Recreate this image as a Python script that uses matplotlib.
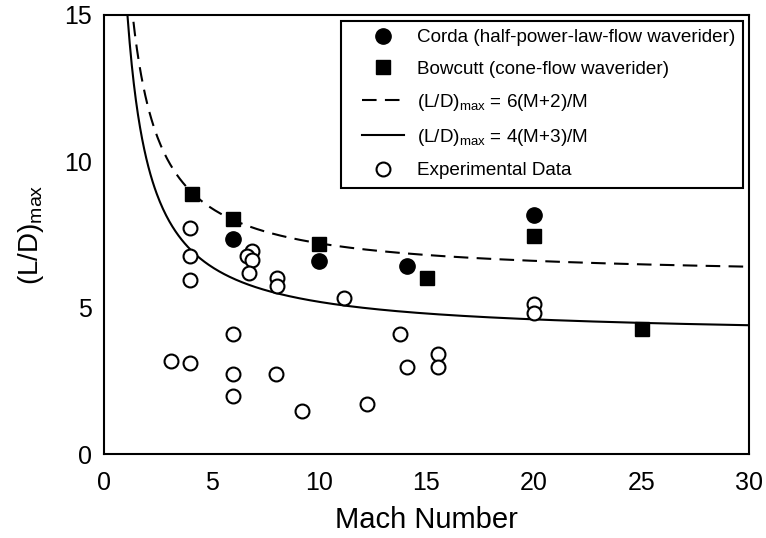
import numpy as np
import matplotlib
matplotlib.use("Agg")
import matplotlib.pyplot as plt
from matplotlib.legend_handler import HandlerLine2D

plt.rcParams['font.family'] = ['Liberation Sans', 'DejaVu Sans']
plt.rcParams['mathtext.fontset'] = 'custom'
plt.rcParams['mathtext.rm'] = 'Liberation Sans'
plt.rcParams['mathtext.it'] = 'Liberation Sans:italic'

# Corda (half-power-law-flow waverider)
corda_mach = [6.0, 10.0, 14.1, 20.0]
corda_ld = [7.35, 6.6, 6.42, 8.17]

# Bowcutt (cone-flow waverider)
bowcutt_mach = [4.1, 6.0, 10.0, 15.0, 20.0, 25.0]
bowcutt_ld = [8.9, 8.03, 7.16, 6.0, 7.45, 4.27]

# experimental data
exp_mach = [4.0, 4.0, 4.0, 6.9, 6.65, 6.9, 6.75, 8.05, 8.05, 11.15, 6.0, 3.1, 4.0,
            6.0, 8.0, 6.0, 9.2, 12.25, 20.0, 20.0, 13.75, 14.1, 15.55, 15.55]
exp_ld = [7.71, 6.78, 5.94, 6.95, 6.76, 6.63, 6.17, 6.02, 5.75, 5.34, 4.10, 3.19, 3.12,
          2.72, 2.74, 1.99, 1.48, 1.71, 5.12, 4.83, 4.09, 2.96, 3.42, 2.96]

mach = np.linspace(1.0, 30, 600)
dashed_ld = 6 * (mach + 2) / mach
solid_ld = 4 * (mach + 3) / mach


class ShiftedHandle(HandlerLine2D):
    # line drawn on the right part of the handle box, marker near its right end
    def get_xdata(self, legend, xdescent, ydescent, width, height, fontsize):
        x0 = -xdescent
        return [x0 + 0.23 * width, x0 + width], [x0 + 0.95 * width]


fig = plt.figure(figsize=(7.66, 5.38), dpi=100)
ax = fig.add_axes([104 / 766, 1 - 454 / 538, 645 / 766, 439 / 538])

h1, = ax.plot(corda_mach, corda_ld, 'o', color='black', ms=11, ls='none', zorder=4,
              label='Corda (half-power-law-flow waverider)')
h2, = ax.plot(bowcutt_mach, bowcutt_ld, 's', color='black', ms=10, ls='none', zorder=4,
              label='Bowcutt (cone-flow waverider)')
h3, = ax.plot(mach, dashed_ld, color='black', lw=1.5, dashes=(7, 4),
              label=r'(L/D)$_{\mathrm{max}}$ = 6(M+2)/M')
h4, = ax.plot(mach, solid_ld, color='black', lw=1.5,
              label=r'(L/D)$_{\mathrm{max}}$ = 4(M+3)/M')
h5, = ax.plot(exp_mach, exp_ld, 'o', mfc='white', mec='black', mew=1.5, ms=10, ls='none',
              zorder=3, label='Experimental Data')

ax.set_xlim(0, 30)
ax.set_ylim(0, 15)
ax.set_xticks([0, 5, 10, 15, 20, 25, 30])
ax.set_yticks([0, 5, 10, 15])
ax.tick_params(length=0, labelsize=18)
ax.tick_params(axis='x', pad=12)
ax.tick_params(axis='y', pad=9)
for s in ax.spines.values():
    s.set_linewidth(1.5)

ax.set_xlabel('Mach Number', fontsize=21, labelpad=8)
ax.set_ylabel(r'(L/D)$_{\mathrm{max}}$', fontsize=20, labelpad=13)

sh = ShiftedHandle(numpoints=1)
leg = ax.legend(handles=[h1, h2, h3, h4, h5], loc='upper right', fontsize=13.6,
                handlelength=2.9, handletextpad=0.65, labelspacing=0.75,
                borderaxespad=0.3, borderpad=0.45, fancybox=False, framealpha=1,
                edgecolor='black',
                handler_map={h1: sh, h2: sh, h3: sh, h4: sh, h5: sh})
leg.get_frame().set_linewidth(1.5)

fig.savefig('out.png', dpi=100)
